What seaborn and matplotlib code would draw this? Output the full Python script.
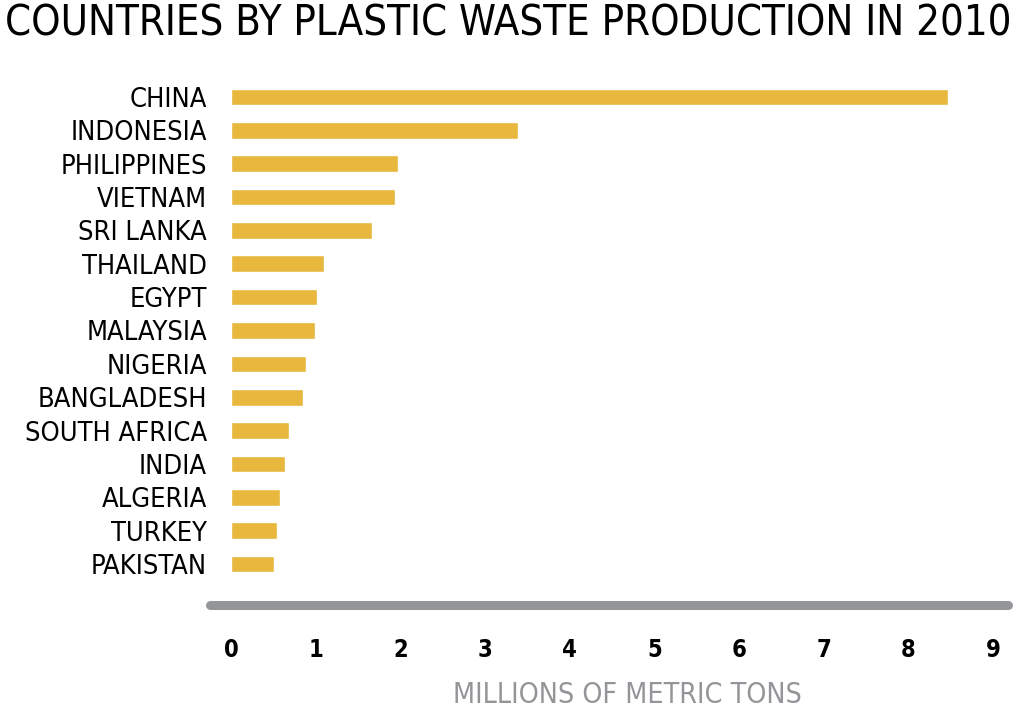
import matplotlib
matplotlib.use("Agg")
import matplotlib.pyplot as plt
import pandas as pd
import seaborn as sns

countries = ["CHINA", "INDONESIA", "PHILIPPINES", "VIETNAM", "SRI LANKA",
             "THAILAND", "EGYPT", "MALAYSIA", "NIGERIA", "BANGLADESH",
             "SOUTH AFRICA", "INDIA", "ALGERIA", "TURKEY", "PAKISTAN"]
waste_mt = [8.47, 3.39, 1.97, 1.94, 1.67, 1.10, 1.02, 0.99, 0.89, 0.85,
            0.68, 0.64, 0.58, 0.54, 0.51]
x_ticks = [0, 1, 2, 3, 4, 5, 6, 7, 8, 9]

BAR_COLOR = "#E8B83E"
AXIS_GRAY = "#939598"

sns.set_style("white")
plt.rcParams["font.family"] = ["DejaVu Sans"]
plt.rcParams["font.stretch"] = "condensed"
plt.rcParams["text.color"] = "black"
plt.rcParams["xtick.color"] = "black"
plt.rcParams["ytick.color"] = "black"

df = pd.DataFrame({"country": countries, "waste": waste_mt})

fig = plt.figure(figsize=(10.24, 7.08), dpi=100)
ax = fig.add_axes([210 / 1024, 1 - 605 / 708, (1008 - 210) / 1024, (605 - 70) / 708])

sns.barplot(data=df, x="waste", y="country", orient="h", color=BAR_COLOR,
            saturation=1, width=0.5, ax=ax)

ax.set_xlim(-0.248, 9.177)
ax.set_ylim(15.23, -0.81)
ax.set_xticks(x_ticks)
ax.set_xticklabels([str(t) for t in x_ticks], fontsize=17, fontweight="bold",
                   fontstretch="condensed")
ax.tick_params(axis="x", length=0, pad=24)
ax.tick_params(axis="y", length=0, pad=2, labelsize=19.5)
ax.set_xlabel("")
ax.set_ylabel("")

for side in ["top", "right", "left"]:
    ax.spines[side].set_visible(False)
ax.spines["bottom"].set_color(AXIS_GRAY)
ax.spines["bottom"].set_linewidth(6.5)
ax.spines["bottom"].set_capstyle("round")

fig.text(5 / 1024, 1 - 24 / 708, "COUNTRIES BY PLASTIC WASTE PRODUCTION IN 2010",
         fontsize=30, va="center", ha="left", fontstretch="condensed")
fig.text(627 / 1024, 1 - 695 / 708, "MILLIONS OF METRIC TONS",
         fontsize=20.5, color=AXIS_GRAY, va="center", ha="center",
         fontstretch="condensed")

fig.savefig("out.png", dpi=100)
